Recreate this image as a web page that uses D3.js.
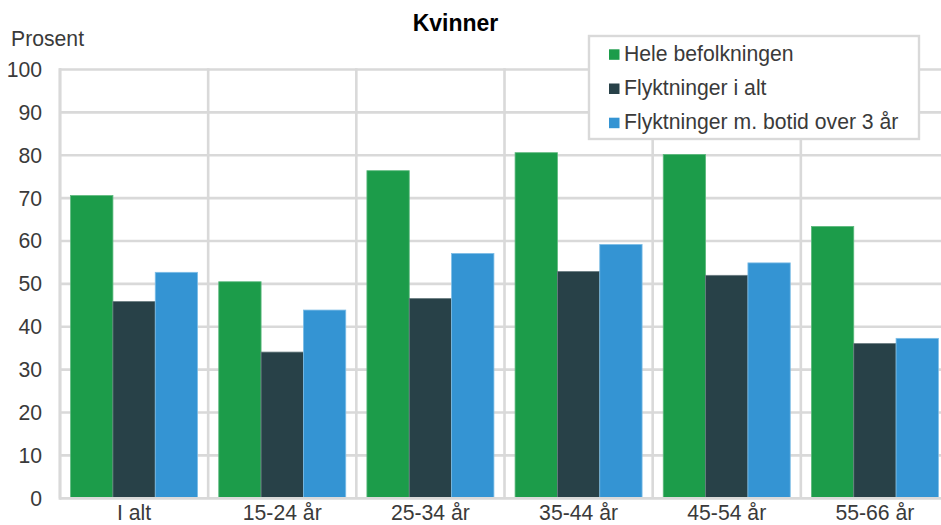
<!DOCTYPE html>
<html>
<head>
<meta charset="utf-8">
<script src="https://cdn.jsdelivr.net/npm/d3@7"></script>
<style>
html, body { margin: 0; padding: 0; background: #fff; overflow: hidden; }
svg { display: block; font-family: "Liberation Sans", Arial, sans-serif; }
</style>
</head>
<body>
<svg id="chart" width="941" height="525"></svg>
<script>
const categories = ["I alt", "15-24 år", "25-34 år", "35-44 år", "45-54 år", "55-66 år"];
const seriesNames = ["Hele befolkningen", "Flyktninger i alt", "Flyktninger m. botid over 3 år"];
const heleBefolkningen = [70.6, 50.5, 76.4, 80.6, 80.2, 63.4];
const flyktningerIAlt = [45.9, 34.1, 46.6, 52.9, 52.0, 36.1];
const flyktningerBotid3 = [52.7, 43.9, 57.1, 59.2, 54.9, 37.3];
const yTicks = [0, 10, 20, 30, 40, 50, 60, 70, 80, 90, 100];
const colors = ["#1c9c4a", "#284148", "#3494d3"];
const strokeColors = ["#5cb97d", "#6a7d82", "#7dbde6"];

const seriesValues = [heleBefolkningen, flyktningerIAlt, flyktningerBotid3];

const svg = d3.select("#chart");
const plotLeft = 60, plotRight = 949, plotTop = 69.5, plotBottom = 498.3;
const gridColor = "#d9d9d9";
const textColor = "#3a3a3a";
const fontSize = 21.2;

const x = d3.scaleBand().domain(categories).range([plotLeft, plotRight]).padding(0);
const xInner = d3.scaleBand().domain(seriesNames).range([0, x.bandwidth()]).paddingInner(0).paddingOuter(0.25);
const y = d3.scaleLinear().domain([0, 100]).range([plotBottom, plotTop]);

// horizontal gridlines
svg.append("g").selectAll("line").data(yTicks.filter(d => d > 0)).join("line")
  .attr("x1", plotLeft).attr("x2", plotRight)
  .attr("y1", d => y(d)).attr("y2", d => y(d))
  .attr("stroke", gridColor).attr("stroke-width", 2.6);

// vertical gridlines at band boundaries
svg.append("g").selectAll("line").data(categories).join("line")
  .attr("x1", d => x(d)).attr("x2", d => x(d))
  .attr("y1", plotTop - 1.3).attr("y2", plotBottom)
  .attr("stroke", gridColor).attr("stroke-width", 2.6);

// bars
const groups = svg.append("g").selectAll("g").data(categories).join("g")
  .attr("transform", d => `translate(${x(d)},0)`);
groups.selectAll("rect")
  .data((c, i) => seriesNames.map((s, j) => ({ s, j, v: seriesValues[j][i] })))
  .join("rect")
  .attr("x", d => xInner(d.s))
  .attr("width", xInner.bandwidth())
  .attr("y", d => y(d.v))
  .attr("height", d => y(0) - y(d.v))
  .attr("fill", d => colors[d.j])
  .attr("stroke", d => strokeColors[d.j])
  .attr("stroke-width", 0.8);

// axis lines
svg.append("line").attr("x1", plotLeft).attr("x2", plotRight)
  .attr("y1", plotBottom).attr("y2", plotBottom)
  .attr("stroke", gridColor).attr("stroke-width", 2.8);
svg.append("line").attr("x1", plotLeft).attr("x2", plotLeft)
  .attr("y1", plotTop - 1.3).attr("y2", plotBottom + 1.4)
  .attr("stroke", gridColor).attr("stroke-width", 2.8);

// y tick labels
svg.append("g").selectAll("text").data(yTicks).join("text")
  .attr("x", 42).attr("y", d => y(d) + 7.4)
  .attr("text-anchor", "end")
  .attr("font-size", fontSize).attr("fill", textColor)
  .text(d => d);

// x labels
svg.append("g").selectAll("text").data(categories).join("text")
  .attr("x", d => x(d) + x.bandwidth() / 2).attr("y", 520)
  .attr("text-anchor", "middle")
  .attr("font-size", fontSize).attr("fill", textColor)
  .text(d => d);

// axis title
svg.append("text").attr("x", 11).attr("y", 45.5)
  .attr("font-size", fontSize).attr("fill", textColor).text("Prosent");

// chart title
svg.append("text").attr("x", 455.5).attr("y", 31.3)
  .attr("text-anchor", "middle").attr("font-weight", "bold")
  .attr("font-size", 23).attr("fill", "#000").text("Kvinner");

// legend
const lg = svg.append("g");
lg.append("rect").attr("x", 589).attr("y", 36).attr("width", 330).attr("height", 103)
  .attr("fill", "#fff").attr("stroke", gridColor).attr("stroke-width", 2.4);
const rows = lg.selectAll("g").data(seriesNames).join("g")
  .attr("transform", (d, i) => `translate(0,${54.3 + i * 34.2})`);
rows.append("rect").attr("x", 609).attr("y", -5).attr("width", 10.5).attr("height", 10.5)
  .attr("fill", (d, i) => colors[i]);
rows.append("text").attr("x", 624).attr("y", 6.7)
  .attr("font-size", fontSize).attr("fill", textColor).text(d => d);
</script>
</body>
</html>
